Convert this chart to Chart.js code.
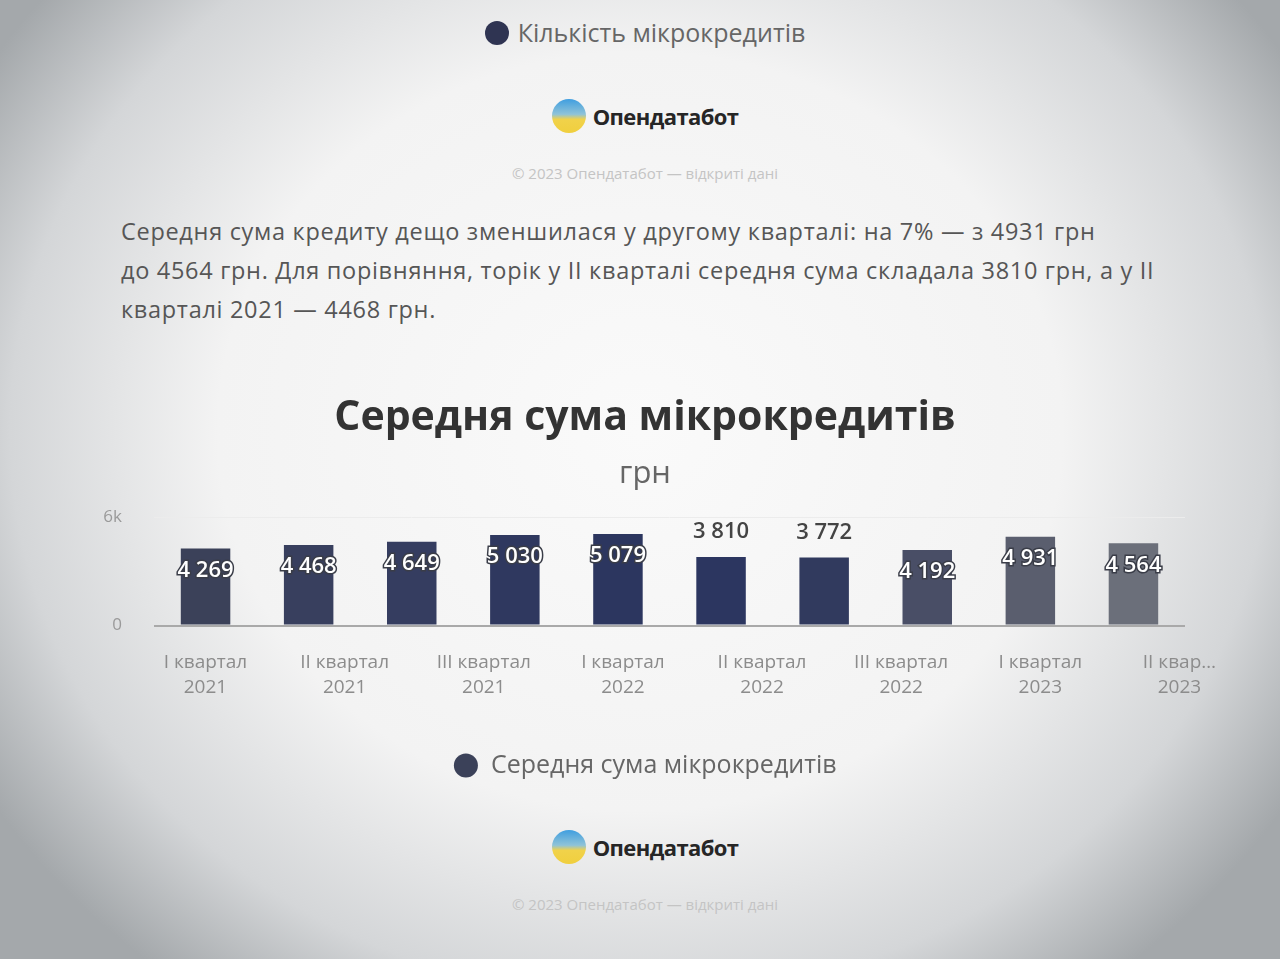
<!DOCTYPE html>
<html lang="uk">
<head>
<meta charset="utf-8">
<title>Середня сума мікрокредитів</title>
<script src="https://cdn.jsdelivr.net/npm/chart.js@4"></script>
<style>
  html, body { margin: 0; padding: 0; }
  body {
    width: 1280px; height: 959px; overflow: hidden; position: relative;
    font-family: "Open Sans", "Noto Sans", sans-serif;
    background: radial-gradient(ellipse 60% 72% at 50% 45%, #fafafa 0%, #f3f3f3 55%, #d4d6d8 82%, #a4a8ab 100%);
  }
  .legend-top { position: absolute; top: 15px; left: 0; width: 1290px; text-align: center; font-size: 25px; color: #666; }
  .legend-top .dot { display: inline-block; width: 24px; height: 24px; border-radius: 50%; background: #2f3452; vertical-align: -3px; margin-right: 9px; }
  .logo { position: absolute; left: 0; width: 1290px; display: flex; justify-content: center; align-items: center; }
  .logo .circle { width: 34px; height: 34px; border-radius: 50%; background: linear-gradient(#3f9ee0 0%, #8fc3d8 45%, #f1d24a 60%, #f0cf3e 100%); margin-right: 7px; }
  .logo .name { font-weight: 700; font-size: 22px; color: #262626; letter-spacing: -0.6px; }
  .copy { position: absolute; left: 0; width: 1290px; text-align: center; font-size: 15px; color: #c4c4c4; }
  .para { position: absolute; left: 121px; top: 212px; font-size: 23.5px; letter-spacing: 0.7px; line-height: 39px; color: #565656; white-space: nowrap; }
  #wrap { position: absolute; left: 0; top: 370px; width: 1280px; height: 426px; }
</style>
</head>
<body>
<div class="legend-top"><span class="dot"></span>Кількість мікрокредитів</div>
<div class="logo" style="top:99px"><span class="circle"></span><span class="name">Опендатабот</span></div>
<div class="copy" style="top:163px">© 2023 Опендатабот — відкриті дані</div>
<div class="para">Середня сума кредиту дещо зменшилася у другому кварталі: на 7% — з 4931 грн<br>до 4564 грн. Для порівняння, торік у ІІ кварталі середня сума складала 3810 грн, а у ІІ<br>кварталі 2021 — 4468 грн.</div>
<div id="wrap"><canvas id="myChart"></canvas></div>
<div class="logo" style="top:830px"><span class="circle"></span><span class="name">Опендатабот</span></div>
<div class="copy" style="top:894px">© 2023 Опендатабот — відкриті дані</div>

<script>
// quarters 2021 Q1 .. 2023 Q2
const quarters = ["I кв. 2021", "II кв. 2021", "III кв. 2021", "IV кв. 2021", "I кв. 2022",
                  "II кв. 2022", "III кв. 2022", "IV кв. 2022", "I кв. 2023", "II кв. 2023"];
const avgAmount = [4269, 4468, 4649, 5030, 5079, 3810, 3772, 4192, 4931, 4564];

// axis labels as shown under the bars (the source skips some quarters)
const tickLabels = [
  ["I квартал", "2021"], ["II квартал", "2021"], ["III квартал", "2021"],
  ["I квартал", "2022"], ["II квартал", "2022"], ["III квартал", "2022"],
  ["I квартал", "2023"], ["II квар…", "2023"]
];
const yTicks = [0, 6000];

// photo lighting makes the bars shade from navy to grey
const barColors = ["#3b4159", "#383f5e", "#353d60", "#2f385f", "#2c365f",
                   "#2c3660", "#313a5e", "#494e66", "#5a5e6e", "#6b6f7a"];

const fmt = v => String(v).replace(/\B(?=(\d{3})+(?!\d))/g, " ");

// 🏷️ value labels on bars
const barLabels = {
  id: "barLabels",
  afterDatasetsDraw(chart) {
    const ctx = chart.ctx;
    const meta = chart.getDatasetMeta(0);
    ctx.save();
    ctx.font = "600 22px 'Open Sans', sans-serif";
    ctx.textAlign = "center";
    ctx.textBaseline = "middle";
    meta.data.forEach((bar, i) => {
      const v = avgAmount[i];
      const text = fmt(v);
      if (v < 4000) {
        ctx.fillStyle = "#444";
        ctx.fillText(text, bar.x, bar.y - 25);
      } else {
        ctx.lineWidth = 3;
        ctx.strokeStyle = "#3a3d48";
        ctx.strokeText(text, bar.x, bar.y + 22);
        ctx.fillStyle = "#fff";
        ctx.fillText(text, bar.x, bar.y + 22);
      }
    });
    ctx.restore();
  }
};

new Chart(document.getElementById("myChart"), {
  type: "bar",
  data: {
    labels: quarters,
    datasets: [{
      label: "Середня сума мікрокредитів",
      data: avgAmount,
      backgroundColor: barColors,
      barPercentage: 0.8,
      categoryPercentage: 0.6
    }]
  },
  options: {
    responsive: true,
    maintainAspectRatio: false,
    animation: false,
    layout: { padding: { left: 10, right: 0, top: 0, bottom: 8 } },
    plugins: {
      title: {
        display: true,
        text: "Середня сума мікрокредитів",
        color: "#333",
        font: { family: "'Open Sans', sans-serif", size: 41, weight: "bold" },
        padding: { top: 24, bottom: 6 }
      },
      subtitle: {
        display: true,
        text: "грн",
        color: "#666",
        font: { family: "'Open Sans', sans-serif", size: 31 },
        padding: { top: 6, bottom: 25 }
      },
      legend: {
        position: "bottom",
        labels: {
          usePointStyle: true,
          pointStyle: "circle",
          boxHeight: 17,
          color: "#666",
          font: { family: "'Open Sans', sans-serif", size: 25 },
          padding: 12
        }
      },
      tooltip: { enabled: false }
    },
    scales: {
      x: { display: false },
      x2: {
        type: "linear",
        position: "bottom",
        bounds: "data",
        offset: false,
        min: -0.37,
        max: 7.04,
        afterBuildTicks(scale) { scale.ticks = tickLabels.map((t, i) => ({ value: i })); },
        afterFit(scale) { scale.height += 24; },
        grid: { display: false },
        border: { display: false },
        ticks: {
          autoSkip: false,
          maxRotation: 0,
          padding: 17,
          color: "#8c8c8c",
          font: { family: "'Open Sans', sans-serif", size: 19, lineHeight: 1.3 },
          callback: v => tickLabels[v]
        }
      },
      y: {
        min: 0,
        max: 6000,
        afterBuildTicks(scale) { scale.ticks = yTicks.map(v => ({ value: v })); },
        afterFit(scale) { scale.width = 144; },
        border: { display: false },
        grid: {
          drawTicks: false,
          color: c => c.tick && c.tick.value === 0 ? "#a9a9a9" : "#ececec",
          lineWidth: c => c.tick && c.tick.value === 0 ? 2 : 1
        },
        ticks: {
          padding: 32,
          color: "#9a9a9a",
          font: { family: "'Open Sans', sans-serif", size: 17 },
          callback: v => v === 0 ? "0" : v / 1000 + "k"
        }
      },
      yRight: {
        position: "right",
        grid: { display: false },
        border: { display: false },
        ticks: { display: false },
        afterFit(scale) { scale.width = 95; }
      }
    }
  },
  plugins: [barLabels]
});
</script>
</body>
</html>
